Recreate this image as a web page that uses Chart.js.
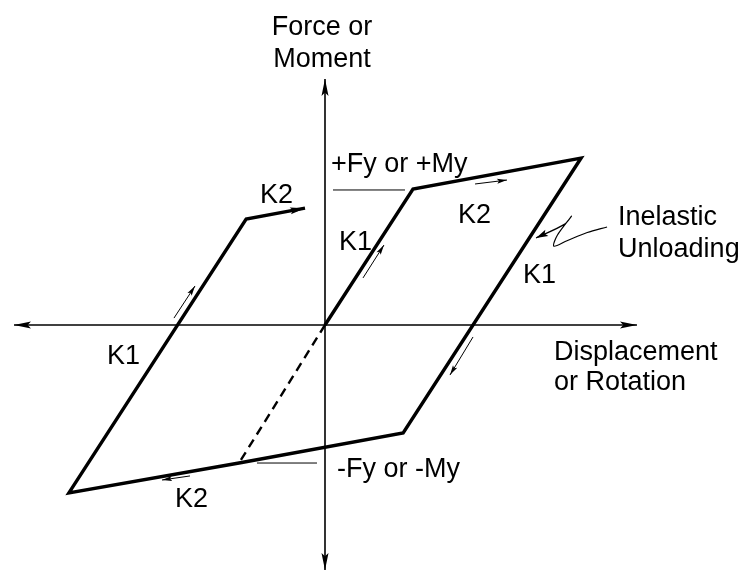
<!DOCTYPE html>
<html>
<head>
<meta charset="utf-8">
<script src="https://cdn.jsdelivr.net/npm/chart.js@4/dist/chart.umd.min.js"></script>
<style>
  html, body { margin: 0; padding: 0; background: #fff; }
  canvas { display: block; }
</style>
</head>
<body>
<canvas id="hysteresis" width="749" height="571"></canvas>
<script>
// displacement in units of yield displacement, force in units of Fy
const loopX = [0, 1.0, 2.91, 0.888, -0.977, -2.91, -0.896, -0.227];
const loopY = [0, 1.0, 1.228, -0.794, -1.015, -1.235, 0.779, 0.859];
const dashedX = [0, -0.977];
const dashedY = [0, -1.015];

const hAxisX = [-3.534, 3.545];
const hAxisY = [0, 0];
const vAxisX = [0, 0];
const vAxisY = [-1.801, 1.809];

const leaderTopX = [0.091, 0.909];
const leaderTopY = [0.993, 0.993];
const leaderBotX = [-0.773, -0.091];
const leaderBotY = [-1.015, -1.015];

// small direction arrows beside the branches
const topK2ArrowX = [1.705, 2.068];
const topK2ArrowY = [1.037, 1.066];
const upperK1ArrowX = [0.432, 0.67];
const upperK1ArrowY = [0.346, 0.588];
const leftK1ArrowX = [-1.716, -1.477];
const leftK1ArrowY = [0.051, 0.287];
const unloadArrowX = [1.682, 1.42];
const unloadArrowY = [-0.088, -0.368];
const bottomK2ArrowX = [-1.534, -1.852];
const bottomK2ArrowY = [-1.11, -1.14];

// "Inelastic Unloading" pointer
const squiggleX = [3.205, 2.98, 2.75, 2.6, 2.64, 2.8, 2.72, 2.398];
const squiggleY = [0.721, 0.68, 0.62, 0.58, 0.66, 0.8, 0.74, 0.64];

const labelTexts = ["Force or", "Moment", "+Fy or +My", "K2", "K1", "Inelastic", "Unloading",
  "K1", "K2", "K1", "Displacement", "or Rotation", "-Fy or -My", "K2"];
const labelX = [-0.034, -0.034, 0.068, 1.511, 0.159, 3.33, 3.33, 2.25, -0.739, -2.477, 2.602, 2.602, 0.136, -1.705];
const labelY = [2.132, 1.897, 1.125, 0.75, 0.551, 0.735, 0.5, 0.309, 0.897, -0.287, -0.257, -0.478, -1.118, -1.338];
const labelAlign = ["center", "center", "left", "left", "left", "left", "left",
  "left", "left", "left", "left", "left", "left", "left"];

const pts = (xs, ys) => xs.map((x, i) => ({ x: x, y: ys[i] }));

const line = (xs, ys, width, extra) => Object.assign({
  data: pts(xs, ys),
  showLine: true,
  borderColor: "#000",
  backgroundColor: "#000",
  borderWidth: width,
  pointRadius: 0,
  fill: false,
  tension: 0,
}, extra || {});

const arrowPlugin = {
  id: "arrowsAndLabels",
  afterDatasetsDraw: (chart) => {
    const { ctx, scales } = chart;
    const head = (from, to, len, half) => {
      const px1 = scales.x.getPixelForValue(from.x), py1 = scales.y.getPixelForValue(from.y);
      const px2 = scales.x.getPixelForValue(to.x), py2 = scales.y.getPixelForValue(to.y);
      const a = Math.atan2(py2 - py1, px2 - px1);
      ctx.save();
      ctx.translate(px2, py2);
      ctx.rotate(a);
      ctx.beginPath();
      ctx.moveTo(0, 0);
      ctx.lineTo(-len, -half);
      ctx.lineTo(-len * 0.8, 0);
      ctx.lineTo(-len, half);
      ctx.closePath();
      ctx.fillStyle = "#000";
      ctx.fill();
      ctx.restore();
    };
    chart.data.datasets.forEach((ds) => {
      const d = ds.data;
      if (ds.arrowEnd) head(d[d.length - 2], d[d.length - 1], ds.arrowEnd[0], ds.arrowEnd[1]);
      if (ds.arrowStart) head(d[1], d[0], ds.arrowStart[0], ds.arrowStart[1]);
    });

    ctx.save();
    ctx.fillStyle = "#000";
    ctx.font = '27px "Liberation Sans", Arial, sans-serif';
    ctx.textBaseline = "alphabetic";
    labelTexts.forEach((t, i) => {
      ctx.textAlign = labelAlign[i];
      ctx.fillText(t, scales.x.getPixelForValue(labelX[i]), scales.y.getPixelForValue(labelY[i]));
    });
    ctx.restore();
  },
};

new Chart(document.getElementById("hysteresis"), {
  type: "scatter",
  data: {
    datasets: [
      line(hAxisX, hAxisY, 1.6, { arrowEnd: [17, 3.5], arrowStart: [17, 3.5] }),
      line(vAxisX, vAxisY, 1.6, { arrowEnd: [17, 3.5], arrowStart: [17, 3.5] }),
      line(loopX, loopY, 3.4, { arrowEnd: [15, 3.5], borderJoinStyle: "miter" }),
      line(dashedX, dashedY, 2.4, { borderDash: [9, 6] }),
      line(leaderTopX, leaderTopY, 1),
      line(leaderBotX, leaderBotY, 1),
      line(topK2ArrowX, topK2ArrowY, 1, { arrowEnd: [10, 2.5] }),
      line(upperK1ArrowX, upperK1ArrowY, 1, { arrowEnd: [10, 2.5] }),
      line(leftK1ArrowX, leftK1ArrowY, 1, { arrowEnd: [10, 2.5] }),
      line(unloadArrowX, unloadArrowY, 1, { arrowEnd: [10, 2.5] }),
      line(bottomK2ArrowX, bottomK2ArrowY, 1, { arrowEnd: [10, 2.5] }),
      line(squiggleX, squiggleY, 1.2, { tension: 0.3, arrowEnd: [12, 3.5] }),
    ],
  },
  options: {
    responsive: false,
    animation: false,
    layout: { padding: 0 },
    plugins: { legend: { display: false }, tooltip: { enabled: false } },
    scales: {
      x: { type: "linear", min: -3.693, max: 4.818, display: false },
      y: { type: "linear", min: -1.809, max: 2.39, display: false },
    },
  },
  plugins: [arrowPlugin],
});
</script>
</body>
</html>
